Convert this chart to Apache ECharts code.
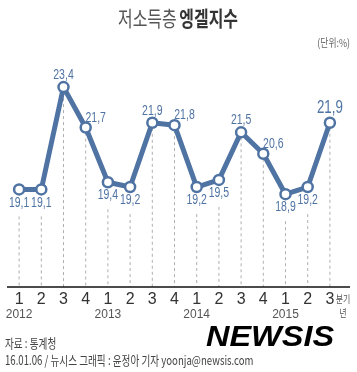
<!DOCTYPE html>
<html><head><meta charset="utf-8">
<script src="https://cdn.jsdelivr.net/npm/echarts@6/dist/echarts.min.js"></script>
<style>html,body{margin:0;padding:0;background:#fff}#c{width:357px;height:372px}</style>
</head><body><div id="c"></div>
<script>
const quarters = ['1','2','3','4','1','2','3','4','1','2','3','4','1','2','3'];
const years = ['2012','','','','2013','','','','2014','','','','2015','',''];
const values = [19.1,19.1,23.4,21.7,19.4,19.2,21.9,21.8,19.2,19.5,21.5,20.6,18.9,19.2,21.9];
const yMin = 15, yMax = 25;

const SANS = '"Liberation Sans",sans-serif';
const KR = '"Noto Sans CJK KR",sans-serif';
const BLUE = '#4f73a3';

const gridTop = 49, gridBottom = 85, gridLeft = 8, gridRight = 16;

function fmt(v) { return v.toFixed(1).replace('.', ','); }

function labelPlacement(i) {
  const v = values[i], last = i === values.length - 1;
  const prev = values[i - 1], next = values[i + 1];
  if (last) return { dx: 0, dy: -15, size: 19 };
  if (v < 20) return { dx: 0, dy: 13, size: 15 };
  if (prev !== undefined && next !== undefined && prev > v && v > next)
    return { dx: 10, dy: -10, size: 15 };
  return { dx: 0, dy: -12, size: 15 };
}

const chart = echarts.init(document.getElementById('c'), null, { renderer: 'canvas' });
const option = {
  animation: false,
  backgroundColor: '#fff',
  grid: { left: gridLeft, right: gridRight, top: gridTop, bottom: gridBottom },
  xAxis: {
    type: 'category', data: quarters, boundaryGap: true,
    axisLine: { show: false }, axisTick: { show: false },
    axisLabel: {
      margin: 5, interval: 0,
      formatter: (val, idx) => years[idx] ? '{q|' + val + '}\n{y|' + years[idx] + '}' : '{q|' + val + '}',
      rich: {
        q: { fontFamily: SANS, fontSize: 16, color: '#333', lineHeight: 16 },
        y: { fontFamily: SANS, fontSize: 12, color: '#555', lineHeight: 13 }
      }
    }
  },
  yAxis: { type: 'value', min: yMin, max: yMax, show: false, splitLine: { show: false } },
  series: [
    {
      type: 'custom', z: 1,
      data: values.map((v, i) => [i, v]),
      renderItem: (params, api) => {
        const i = api.value(0), v = api.value(1);
        const p = api.coord([i, v]);
        const b = api.coord([i, yMin]);
        const off = v < 20 ? 27 : 5;
        return { type: 'line', shape: { x1: p[0], y1: p[1] + off, x2: p[0], y2: b[1] },
          style: { stroke: '#b0b0b0', lineWidth: 1, lineDash: [3, 3] } };
      }
    },
    {
      type: 'line', z: 3, data: values,
      symbol: 'circle', symbolSize: 10,
      lineStyle: { color: BLUE, width: 5 },
      itemStyle: { color: '#fff', borderColor: BLUE, borderWidth: 2.5 },
      label: { show: false }
    },
    {
      type: 'custom', z: 5,
      data: values.map((v, i) => [i, v]),
      renderItem: (params, api) => {
        const i = api.value(0), v = api.value(1);
        const p = api.coord([i, v]);
        const pl = labelPlacement(i);
        return { type: 'text', x: p[0] + pl.dx, y: p[1] + pl.dy, scaleX: 0.7, z2: 10,
          style: { text: fmt(v), fontFamily: SANS, fontSize: pl.size, fill: BLUE,
            align: 'center', verticalAlign: 'middle' } };
      }
    }
  ],
  graphic: [
    { type: 'text', x: 118, y: 18, scaleX: 0.76,
      style: { text: '{a|저소득층} {b|엥겔지수}', verticalAlign: 'middle',
        rich: {
          a: { fontFamily: KR, fontSize: 21, fill: '#555', fontWeight: 'normal' },
          b: { fontFamily: KR, fontSize: 21, fill: '#333', fontWeight: 'bold' }
        } } },
    { type: 'line', z: 10, shape: { x1: 7, y1: 372 - gridBottom, x2: 350, y2: 372 - gridBottom },
      style: { stroke: '#111', lineWidth: 1.5 } },
    { type: 'text', x: 350, y: 43, scaleX: 0.8, style: { text: '(단위:%)', fontFamily: KR, fontSize: 11, fill: '#666', align: 'right', verticalAlign: 'middle' } },
    { type: 'text', x: 343, y: 299, scaleX: 0.8, style: { text: '분기', fontFamily: KR, fontSize: 10, fill: '#555', align: 'center', verticalAlign: 'middle' } },
    { type: 'text', x: 343, y: 313, scaleX: 0.8, style: { text: '년', fontFamily: KR, fontSize: 10, fill: '#555', align: 'center', verticalAlign: 'middle' } },
    { type: 'text', x: 5, y: 343, scaleX: 0.74, style: { text: '자료 : 통계청', fontFamily: KR, fontSize: 13, fill: '#444', verticalAlign: 'middle' } },
    { type: 'text', x: 5, y: 360, scaleX: 0.74, style: { text: '16.01.06 / 뉴시스 그래픽 : 윤정아 기자 yoonja@newsis.com', fontFamily: KR, fontSize: 13, fill: '#444', verticalAlign: 'middle' } },
    { type: 'text', x: 206, y: 338, scaleX: 1.12, style: { text: 'NEWSIS', fontFamily: SANS, fontSize: 29, fontWeight: 'bold', fontStyle: 'italic', verticalAlign: 'middle',
      fill: new echarts.graphic.LinearGradient(0, 0, 0, 1, [{ offset: 0, color: '#f0303a' }, { offset: 1, color: '#c80818' }]) } }
  ]
};
chart.setOption(option);
</script></body></html>
